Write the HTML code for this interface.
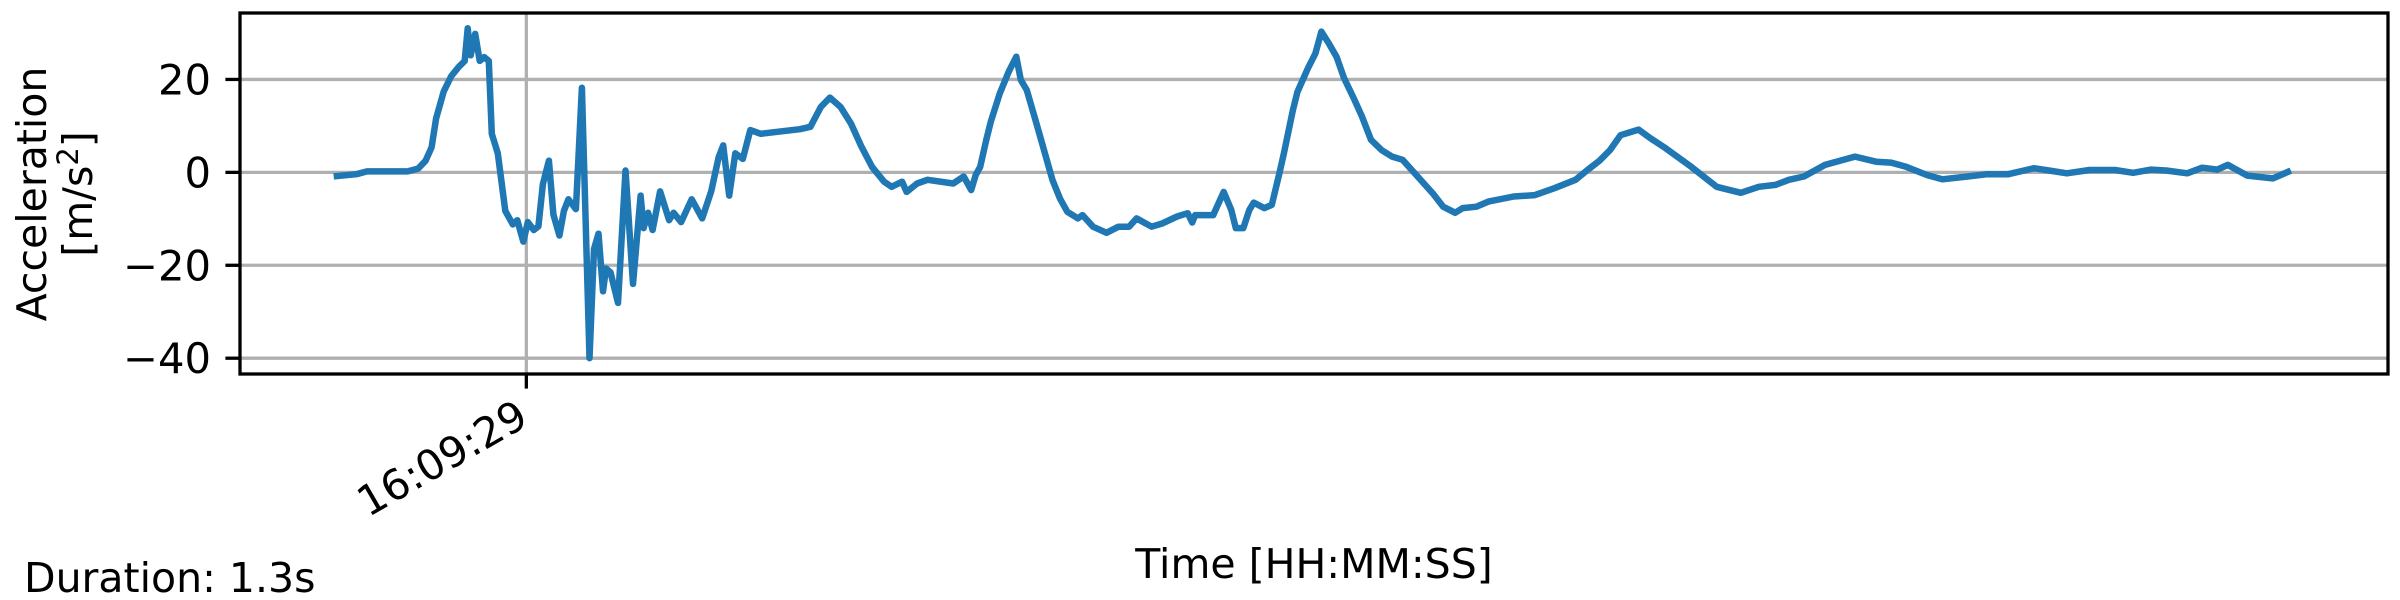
<!DOCTYPE html>
<html><head><meta charset="utf-8"><style>
html,body{margin:0;padding:0;background:#fff;}
svg{display:block;font-family:"DejaVu Sans","Liberation Sans",sans-serif;}
</style></head><body>
<svg id="chart" width="2400" height="600" viewBox="0 0 2400 600">
<rect width="2400" height="600" fill="#fff"/>
<g id="grid"></g>
<g id="series"></g>
<rect x="240" y="13" width="2148" height="361" fill="none" stroke="#000" stroke-width="3.3"/>
<g id="ticks"></g>
<text x="1314" y="578" font-size="41" text-anchor="middle">Time [HH:MM:SS]</text>
<text x="24" y="592" font-size="41">Duration: 1.3s</text>
<g transform="translate(46,194) rotate(-90)">
<text x="0" y="0" font-size="41" text-anchor="middle">Acceleration</text>
<text x="0" y="46" font-size="41" text-anchor="middle">[m/s<tspan dy="-14" font-size="29">2</tspan><tspan dy="14">]</tspan></text>
</g>
</svg>
<script>
const timesMs = [0,13,20,47,54,59,63,66,71,76,81,85,87,89,92,95,98,101,103,107,112,117,120,124,127,131,134,137,141,144,148,151,154,159,163,168,171,174,177,179,182,187,192,197,202,204,207,210,215,221,224,229,236,243,249,254,257,261,265,270,275,282,308,315,322,328,335,342,349,356,364,369,376,379,386,393,410,417,422,425,428,432,435,441,447,452,455,459,466,471,476,481,486,493,496,503,512,520,527,532,542,549,559,566,569,571,583,590,595,598,603,607,610,617,622,627,630,636,639,646,651,655,660,665,670,677,682,688,695,702,709,719,729,736,744,749,758,766,783,797,810,824,832,840,847,854,866,874,884,901,918,934,946,957,966,976,990,1010,1024,1034,1044,1058,1068,1085,1098,1112,1129,1139,1151,1166,1183,1195,1207,1217,1231,1241,1251,1258,1271,1288,1298];
const accel = [-0.8,-0.4,0.2,0.2,0.8,2.5,5.4,11.6,17.4,20.7,22.7,24,31,25.2,29.8,24,24.8,24,8.3,4.1,-8.3,-11.2,-10.3,-14.9,-10.7,-12.4,-11.6,-2.5,2.5,-9.1,-13.6,-8.3,-5.8,-7.9,18.2,-40,-16.5,-13.2,-25.6,-20.7,-21.5,-28.1,0.4,-24,-5,-12,-8.7,-12.4,-4.1,-10.3,-8.7,-10.7,-5.8,-9.9,-4.1,3.3,5.8,-5,4.1,2.9,9.1,8.3,9.3,9.8,14.1,16.1,14.1,10.5,5.5,1.2,-2,-3.1,-2,-4.2,-2.4,-1.6,-2.4,-0.9,-3.8,-0.6,1.2,7,10.9,17,21.7,24.9,19.9,17.7,9.8,4.1,-1.6,-5.6,-8.5,-9.9,-9.2,-11.7,-13,-11.7,-11.7,-9.9,-11.7,-11,-9.5,-8.8,-10.8,-9.2,-9.2,-4.2,-8.1,-12,-12,-8.1,-6.5,-7.7,-7,-0.2,4.1,13.4,17.3,22.4,25.6,30.3,27.7,24.9,20.3,15.6,12,7,4.8,3.4,2.7,-0.9,-4.5,-7.4,-8.7,-7.7,-7.4,-6.3,-5.2,-4.9,-3.4,-1.6,0.5,2.5,4.8,8,9.2,7.3,5.2,1.2,-3.1,-4.4,-3.1,-2.7,-1.6,-0.9,1.6,3.4,2.3,2.1,1.2,-0.6,-1.5,-0.9,-0.4,-0.4,0.9,0.4,-0.2,0.5,0.5,-0.1,0.6,0.4,-0.2,1,0.6,1.6,-0.7,-1.3,0.1];
const yTickValues = [20,0,-20,-40];
const yTickLabels = ["20","0","\u221220","\u221240"];
const xTickValues = [126];
const xTickLabels = ["16:09:29"];

const NS = "http://www.w3.org/2000/svg";
const X0 = 240, X1 = 2388, Y0 = 13, Y1 = 374;
const xMin = -64.5, xMax = 1364.6, yMin = -43.4, yMax = 34.3;
function xs(t){ return X0 + (t - xMin) / (xMax - xMin) * (X1 - X0); }
function ys(v){ return Y1 - (v - yMin) / (yMax - yMin) * (Y1 - Y0); }
function mk(tag, attrs){ const e = document.createElementNS(NS, tag); for (const k in attrs) e.setAttribute(k, attrs[k]); return e; }
const grid = document.getElementById('grid'), ticks = document.getElementById('ticks'), series = document.getElementById('series');

yTickValues.forEach((v, i) => {
  const g = mk('line', {x1: X0, x2: X1, y1: ys(v), y2: ys(v), stroke: '#b0b0b0', 'stroke-width': 3.3});
  
  
  grid.appendChild(g);
  const t = mk('line', {x1: X0 - 14.6, x2: X0, y1: ys(v), y2: ys(v), stroke: '#000', 'stroke-width': 3.3});
  
  
  ticks.appendChild(t);
  const l = mk('text', {x: X0 - 29, y: ys(v) + 15, 'font-size': 41.7, 'text-anchor': 'end'});
  l.textContent = yTickLabels[i];
  
  
  ticks.appendChild(l);
});
xTickValues.forEach((v, i) => {
  const g = mk('line', {x1: xs(v), x2: xs(v), y1: Y0, y2: Y1, stroke: '#b0b0b0', 'stroke-width': 3.3});
  
  
  grid.appendChild(g);
  const t = mk('line', {x1: xs(v), x2: xs(v), y1: Y1, y2: Y1 + 14.6, stroke: '#000', 'stroke-width': 3.3});
  
  
  ticks.appendChild(t);
  const l = mk('text', {'font-size': 41.7, 'text-anchor': 'end', transform: 'translate(' + (xs(v) + 4) + ',' + (Y1 + 50) + ') rotate(-30)'});
  l.textContent = xTickLabels[i];
  
  
  ticks.appendChild(l);
});
let d = '';
timesMs.forEach((t, i) => { d += (i ? 'L' : 'M') + xs(t).toFixed(1) + ',' + ys(accel[i]).toFixed(1); });
const p = mk('path', {d: d, fill: 'none', stroke: '#1f77b4', 'stroke-width': 6.5, 'stroke-linejoin': 'round', 'stroke-linecap': 'square'});


series.appendChild(p);
</script>
</body></html>
